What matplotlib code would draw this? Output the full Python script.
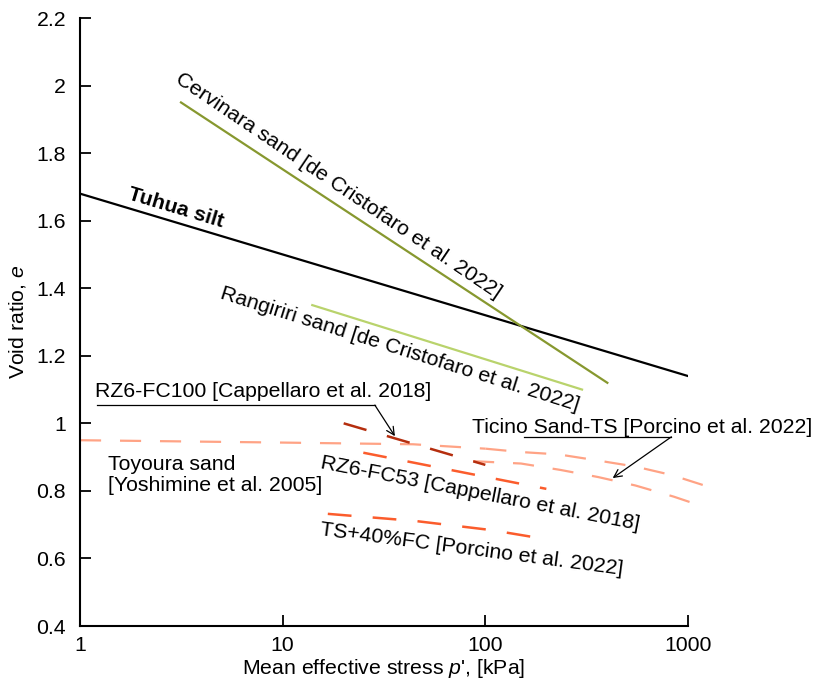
import matplotlib
matplotlib.use("Agg")
import matplotlib.pyplot as plt

plt.rcParams['font.family'] = ['Liberation Sans', 'DejaVu Sans']
plt.rcParams['mathtext.fontset'] = 'custom'
plt.rcParams['mathtext.rm'] = 'Liberation Sans'
plt.rcParams['mathtext.it'] = 'Liberation Sans:italic'
plt.rcParams['mathtext.bf'] = 'Liberation Sans:bold'

# ---- data ----
tuhua_p = [1, 1000]
tuhua_e = [1.68, 1.14]

cervinara_p = [3.15, 400]
cervinara_e = [1.95, 1.12]

rangiriri_p = [14, 300]
rangiriri_e = [1.35, 1.10]

toyoura_p = [1, 10, 44, 100]
toyoura_e = [0.950, 0.943, 0.938, 0.925]

ticino_up_p = [100, 150, 230, 350, 550, 830, 1280]
ticino_up_e = [0.925, 0.915, 0.908, 0.891, 0.872, 0.847, 0.811]

ticino_lo_p = [87, 150, 235, 360, 550, 850, 1170]
ticino_lo_e = [0.888, 0.881, 0.862, 0.841, 0.816, 0.783, 0.755]

fc100_p = [20, 100]
fc100_e = [1.0, 0.877]

fc53_p = [25, 200]
fc53_e = [0.913, 0.806]

ts40_p = [16.7, 45, 107, 186]
ts40_e = [0.732, 0.711, 0.684, 0.660]

xticks = [1, 10, 100, 1000]
xticklabels = ['1', '10', '100', '1000']
yticks = [0.4, 0.6, 0.8, 1.0, 1.2, 1.4, 1.6, 1.8, 2.0, 2.2]
yticklabels = ['0.4', '0.6', '0.8', '1', '1.2', '1.4', '1.6', '1.8', '2', '2.2']

# ---- colours ----
c_olive = '#87982f'
c_lgreen = '#b9d36c'
c_salmon = '#ffa385'
c_dark = '#b52e0e'
c_orange = '#fb5c2c'

fs = 15.3
fig = plt.figure(figsize=(8.15, 6.87), dpi=100)
ax = fig.add_axes([80/815, 61/687, 608/815, 608/687])

ax.plot(tuhua_p, tuhua_e, color='black', lw=1.6)
ax.plot(cervinara_p, cervinara_e, color=c_olive, lw=1.6)
ax.plot(rangiriri_p, rangiriri_e, color=c_lgreen, lw=1.6)

dash = (9.5, 8.5)
ax.plot(toyoura_p, toyoura_e, color=c_salmon, lw=1.6, dashes=dash)
ax.plot(ticino_up_p, ticino_up_e, color=c_salmon, lw=1.6, dashes=dash, clip_on=False)
ax.plot(ticino_lo_p, ticino_lo_e, color=c_salmon, lw=1.6, dashes=dash, clip_on=False)
ax.plot(fc100_p, fc100_e, color=c_dark, lw=1.8, dashes=dash)
ax.plot(fc53_p, fc53_e, color=c_orange, lw=1.8, dashes=dash)
ax.plot(ts40_p, ts40_e, color=c_orange, lw=1.8, dashes=dash)

ax.set_xscale('log')
ax.set_xlim(1, 1000)
ax.set_ylim(0.4, 2.2)
ax.set_xticks(xticks)
ax.set_xticklabels(xticklabels)
ax.xaxis.set_minor_locator(matplotlib.ticker.NullLocator())
ax.set_yticks(yticks)
ax.set_yticklabels(yticklabels)
ax.tick_params(direction='in', length=8, width=1.3, labelsize=fs)
ax.tick_params(axis='x', pad=7)
ax.tick_params(axis='y', pad=10)
for s in ['top', 'right']:
    ax.spines[s].set_visible(False)
for s in ['left', 'bottom']:
    ax.spines[s].set_linewidth(1.5)

ax.set_xlabel(r"Mean effective stress $\it{p}$', [kPa]", fontsize=fs, labelpad=2)
ax.set_ylabel(r"Void ratio, $\it{e}$", fontsize=fs, labelpad=6)

# ---- labels ----
ax.text(2.98, 1.637, 'Tuhua silt', fontsize=fs, fontweight='bold',
        rotation=-16.7, rotation_mode='anchor', ha='center', va='center')
ax.text(18.75, 1.703, 'Cervinara sand [de Cristofaro et al. 2022]', fontsize=fs,
        rotation=-34, rotation_mode='anchor', ha='center', va='center')
ax.text(37.9, 1.218, 'Rangiriri sand [de Cristofaro et al. 2022]', fontsize=fs,
        rotation=-17.5, rotation_mode='anchor', ha='center', va='center')
ax.text(94.1, 0.791, 'RZ6-FC53 [Cappellaro et al. 2018]', fontsize=fs,
        rotation=-11, rotation_mode='anchor', ha='center', va='center')
ax.text(85.8, 0.625, 'TS+40%FC [Porcino et al. 2022]', fontsize=fs,
        rotation=-7.5, rotation_mode='anchor', ha='center', va='center')
ax.text(1.375, 0.847, 'Toyoura sand\n[Yoshimine et al. 2005]', fontsize=fs,
        ha='left', va='center', linespacing=1.1)

# RZ6-FC100 label with leader
ax.text(1.186, 1.093, 'RZ6-FC100 [Cappellaro et al. 2018]', fontsize=fs,
        ha='left', va='center')
ax.plot([1.21, 28.5], [1.054, 1.054], color='black', lw=0.9)
ax.annotate('', xy=(35.8, 0.962), xytext=(28.5, 1.054),
            arrowprops=dict(arrowstyle='->', color='black', lw=0.9,
                            shrinkA=0, shrinkB=0, mutation_scale=14))

# Ticino label with leader
ax.text(85.8, 0.989, 'Ticino Sand-TS [Porcino et al. 2022]', fontsize=fs,
        ha='left', va='center', clip_on=False)
ax.plot([156, 828], [0.960, 0.960], color='black', lw=0.9)
ax.annotate('', xy=(425, 0.838), xytext=(828, 0.960),
            arrowprops=dict(arrowstyle='->', color='black', lw=0.9,
                            shrinkA=0, shrinkB=0, mutation_scale=14))

fig.savefig('out.png', dpi=100)
